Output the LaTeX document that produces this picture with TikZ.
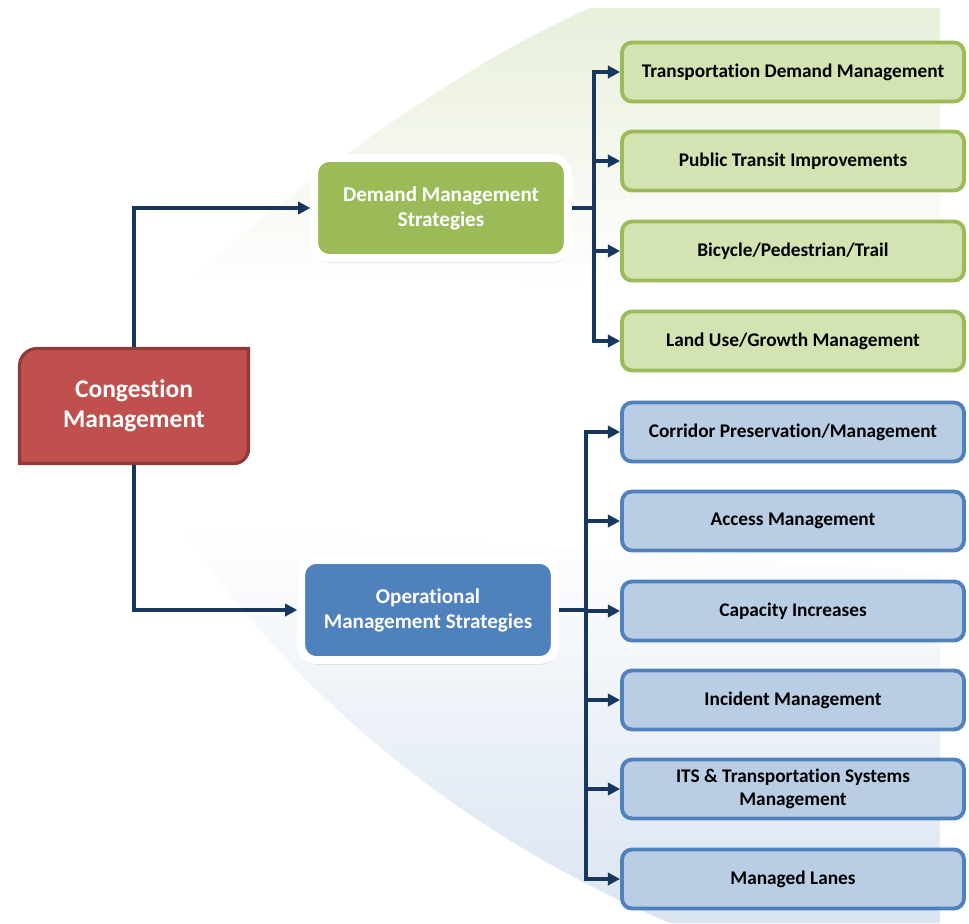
\documentclass[tikz,border=0pt]{standalone}
\usepackage{fontspec}
\setmainfont{Carlito}[Ligatures=NoCommon]
\usetikzlibrary{arrows.meta,shadows}
\definecolor{navy}{HTML}{17375E}
\definecolor{cmred}{HTML}{C0504D}
\definecolor{cmdark}{HTML}{8E3A38}
\definecolor{dmgreen}{HTML}{9BBB59}
\definecolor{dmlight}{HTML}{D3E3B2}
\definecolor{dmpale}{HTML}{E6EDD9}
\definecolor{omblue}{HTML}{4F81BD}
\definecolor{omlight}{HTML}{B9CDE5}
\definecolor{fangreen}{HTML}{E8EFDB}
\definecolor{fanblue}{HTML}{DAE4F1}

\begin{document}
\begin{tikzpicture}[x=0.02cm, y=0.02cm, >={Triangle[length=7pt,width=7pt]},
  link/.style={draw=navy, line width=1.9pt},
  parentbox/.style={draw=white, line width=4.5pt, rounded corners=0.3cm, text=white,
    font=\fontsize{12pt}{14.2pt}\selectfont\bfseries, align=center,
    minimum width=5.07cm, minimum height=2cm,
    drop shadow={opacity=0.4, shadow xshift=0.5pt, shadow yshift=-2.5pt}},
  childbox/.style={line width=2.2pt, rounded corners=0.2cm, align=center,
    font=\fontsize{11pt}{13pt}\selectfont\bfseries,
    minimum width=6.84cm, minimum height=1.18cm},
  greenchild/.style={childbox, draw=dmgreen, left color=dmlight, middle color=dmpale, right color=dmlight},
  bluechild/.style={childbox, draw=omblue, fill=omlight}]

  \fill[white] (0,0) rectangle (969,-923);
  \useasboundingbox (0,0) rectangle (969,-923);

  % background fans
  \shade[top color=fangreen, bottom color=white]
    (195,-274) .. controls (300,-185) and (450,-70) .. (590,-8)
    -- (940,-8) -- (940,-290) -- cycle;
  \shade[top color=white, bottom color=fanblue]
    (180,-524) .. controls (280,-680) and (450,-830) .. (670,-923)
    -- (940,-923) -- (940,-572) -- cycle;

  % root box with two rounded corners
  \filldraw[fill=cmred, draw=cmdark, line width=1.8pt]
    (19.5,-463.5) -- (19.5,-366) arc[start angle=180, end angle=90, radius=17.5]
    -- (248.5,-348.5) -- (248.5,-449) arc[start angle=0, end angle=-90, radius=14.5] -- cycle;
  \node[text=white, font=\fontsize{14.5pt}{17pt}\selectfont\bfseries, align=center,
    minimum width=4.64cm, minimum height=2.36cm] (cm) at (134,-406) {Congestion\\Management};

  \node[parentbox, fill=dmgreen] (dms) at (441,-208) {Demand Management\\Strategies};
  \node[parentbox, fill=omblue] (oms) at (428,-610) {Operational\\Management Strategies};

  \draw[link,->] (cm.north) |- (dms.west);
  \draw[link,->] (cm.south) |- (oms.west);

  \coordinate (dj) at (594,-208);
  \coordinate (oj) at (586,-610);
  \draw[link] (dms.east) -- (dj);
  \draw[link] (oms.east) -- (oj);

  \foreach \y/\n/\t in {72/tdm/Transportation Demand Management, 161/pti/Public Transit Improvements,
      251/bpt/{Bicycle/Pedestrian/Trail}, 341/lug/{Land Use/Growth Management}} {
    \node[greenchild] (\n) at (793,-\y) {\t};
    \draw[link,->] (dj) |- (\n.west);
  }
  \foreach \y/\n/\t in {432/cpm/{Corridor Preservation/Management}, 521/acm/Access Management,
      611/cap/Capacity Increases, 700/inm/Incident Management,
      789/its/{ITS \& Transportation Systems\\Management}, 879/mgl/Managed Lanes} {
    \node[bluechild] (\n) at (793,-\y) {\t};
    \draw[link,->] (oj) |- (\n.west);
  }
\end{tikzpicture}
\end{document}
